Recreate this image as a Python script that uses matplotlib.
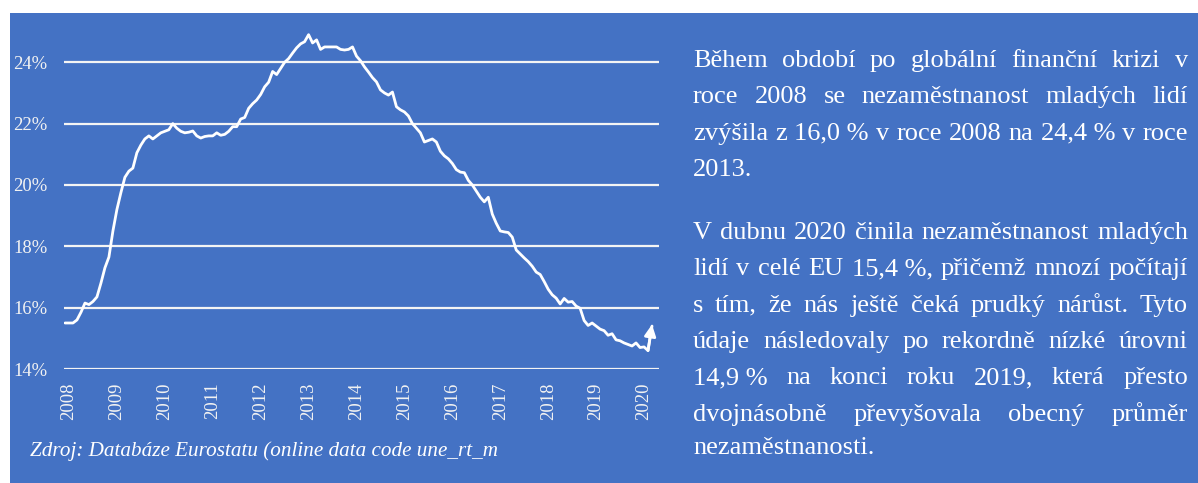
import matplotlib
matplotlib.use('Agg')
import matplotlib.pyplot as plt
from matplotlib.patches import Rectangle
import matplotlib.transforms as mtransforms
import numpy as np

plt.rcParams['font.family'] = ['Liberation Serif', 'DejaVu Serif']

BLUE = '#4472C4'

# ---------------- data (monthly youth unemployment, EU, %) ----------------
years = [str(y) for y in range(2008, 2021)]
ytick_vals = [14, 16, 18, 20, 22, 24]
ytick_labels = ['14%', '16%', '18%', '20%', '22%', '24%']

rate_2008 = [15.5, 15.5, 15.5, 15.6, 15.85, 16.15, 16.1, 16.2, 16.35, 16.8, 17.3, 17.65]
rate_2009 = [18.5, 19.2, 19.75, 20.25, 20.45, 20.55, 21.05, 21.3, 21.5, 21.6, 21.5, 21.6]
rate_2010 = [21.7, 21.75, 21.8, 22.0, 21.85, 21.75, 21.7, 21.72, 21.76, 21.6, 21.53, 21.58]
rate_2011 = [21.6, 21.6, 21.7, 21.62, 21.65, 21.75, 21.9, 21.9, 22.15, 22.2, 22.5, 22.65]
rate_2012 = [22.77, 22.95, 23.2, 23.35, 23.7, 23.6, 23.8, 24.0, 24.12, 24.3, 24.47, 24.6]
rate_2013 = [24.67, 24.9, 24.63, 24.73, 24.42, 24.5, 24.5, 24.5, 24.5, 24.42, 24.4, 24.42]
rate_2014 = [24.5, 24.2, 24.05, 23.85, 23.68, 23.5, 23.36, 23.1, 23.0, 22.93, 23.03, 22.55]
rate_2015 = [22.45, 22.38, 22.25, 22.0, 21.85, 21.7, 21.4, 21.45, 21.5, 21.4, 21.1, 20.95]
rate_2016 = [20.85, 20.7, 20.5, 20.42, 20.4, 20.15, 20.0, 19.8, 19.6, 19.45, 19.6, 19.05]
rate_2017 = [18.75, 18.5, 18.47, 18.45, 18.3, 17.88, 17.75, 17.62, 17.5, 17.35, 17.16, 17.08]
rate_2018 = [16.85, 16.6, 16.42, 16.31, 16.12, 16.3, 16.18, 16.2, 16.05, 15.98, 15.58, 15.42]
rate_2019 = [15.5, 15.4, 15.3, 15.25, 15.1, 15.15, 14.95, 14.92, 14.85, 14.8, 14.75, 14.85]
rate_2020 = [14.7, 14.72, 14.6, 15.4]

rates = (rate_2008 + rate_2009 + rate_2010 + rate_2011 + rate_2012 + rate_2013 +
         rate_2014 + rate_2015 + rate_2016 + rate_2017 + rate_2018 + rate_2019 + rate_2020)

source_text = 'Zdroj: Databáze Eurostatu (online data code une_rt_m'

para1 = ['Během období po globální finanční krizi v',
         'roce 2008 se nezaměstnanost mladých lidí',
         'zvýšila z 16,0\u00a0% v roce 2008 na 24,4\u00a0% v roce',
         '2013.']
para2 = ['V dubnu 2020 činila nezaměstnanost mladých',
         'lidí v celé EU 15,4\u00a0%, přičemž mnozí počítají',
         's tím, že nás ještě čeká prudký nárůst. Tyto',
         'údaje následovaly po rekordně nízké úrovni',
         '14,9\u00a0% na konci roku 2019, která přesto',
         'dvojnásobně převyšovala obecný průměr',
         'nezaměstnanosti.']

# ---------------- figure ----------------
W, H = 1198, 483
fig = plt.figure(figsize=(W / 100, H / 100), dpi=100)
fig.patch.set_facecolor('white')
fig.add_artist(Rectangle((10 / W, 0), 1 - 10 / W, (H - 13) / H,
                         transform=fig.transFigure, facecolor=BLUE,
                         edgecolor='none', zorder=0))

top_px = 31.6
ax = fig.add_axes([64 / W, (H - 369) / H, 595 / W, (369 - top_px) / H])
ax.patch.set_visible(False)

x = np.arange(len(rates))
ax.plot(x, rates, color='white', lw=2.0, solid_joinstyle='round',
        solid_capstyle='round', zorder=3)
ax.annotate('', xy=(x[-1], rates[-1] + 0.05), xytext=(x[-2], rates[-2]),
            arrowprops=dict(arrowstyle='-|>', color='white', lw=2.0,
                            mutation_scale=17, shrinkA=0, shrinkB=0),
            zorder=4)

ax.set_xlim(-0.25, 148.75)
ax.set_ylim(14, 25)
ax.set_yticks(ytick_vals)
ax.set_yticklabels(ytick_labels)
ax.set_xticks(np.arange(0, len(rates), 12))
ax.set_xticklabels(years, rotation=90)
ax.tick_params(axis='both', length=0, labelsize=13.4, labelcolor='#F2F2F2')
ax.tick_params(axis='y', pad=12)
ax.tick_params(axis='x', pad=9.5)
shift = mtransforms.ScaledTranslation(4 / 100, 0, fig.dpi_scale_trans)
for lab in ax.get_xticklabels():
    lab.set_transform(lab.get_transform() + shift)
for s in ax.spines.values():
    s.set_visible(False)
ax.grid(axis='y', color='#F4F4F4', lw=1.6, zorder=1)
ax.set_axisbelow(True)

fig.text(30 / W, 1 - 456 / H, source_text, style='italic', fontsize=15.2,
         color='white', va='baseline', ha='left')

# ---------------- justified paragraph ----------------
FS = 19
X0, X1 = 693, 1188
renderer = fig.canvas.get_renderer()


def text_width(s):
    t = fig.text(0, 0, s, fontsize=FS)
    w = t.get_window_extent(renderer).width
    t.remove()
    return w


def draw_line(line, base_px, justify):
    yf = 1 - base_px / H
    if not justify:
        fig.text(X0 / W, yf, line, fontsize=FS, color='white',
                 ha='left', va='baseline')
        return
    words = line.split(' ')
    widths = [text_width(w) for w in words]
    gap = (X1 - X0 - sum(widths)) / (len(words) - 1)
    xp = X0
    for w, wd in zip(words, widths):
        fig.text(xp / W, yf, w, fontsize=FS, color='white',
                 ha='left', va='baseline')
        xp += wd + gap


p1_base = [67, 103.3, 139.6, 175.9]
p2_base = [239, 275.3, 311.6, 347.9, 384.2, 420.5, 454]
for i, (ln, b) in enumerate(zip(para1, p1_base)):
    draw_line(ln, b, i < len(para1) - 1)
for i, (ln, b) in enumerate(zip(para2, p2_base)):
    draw_line(ln, b, i < len(para2) - 1)

fig.savefig('out.png', dpi=100, facecolor=fig.get_facecolor())
